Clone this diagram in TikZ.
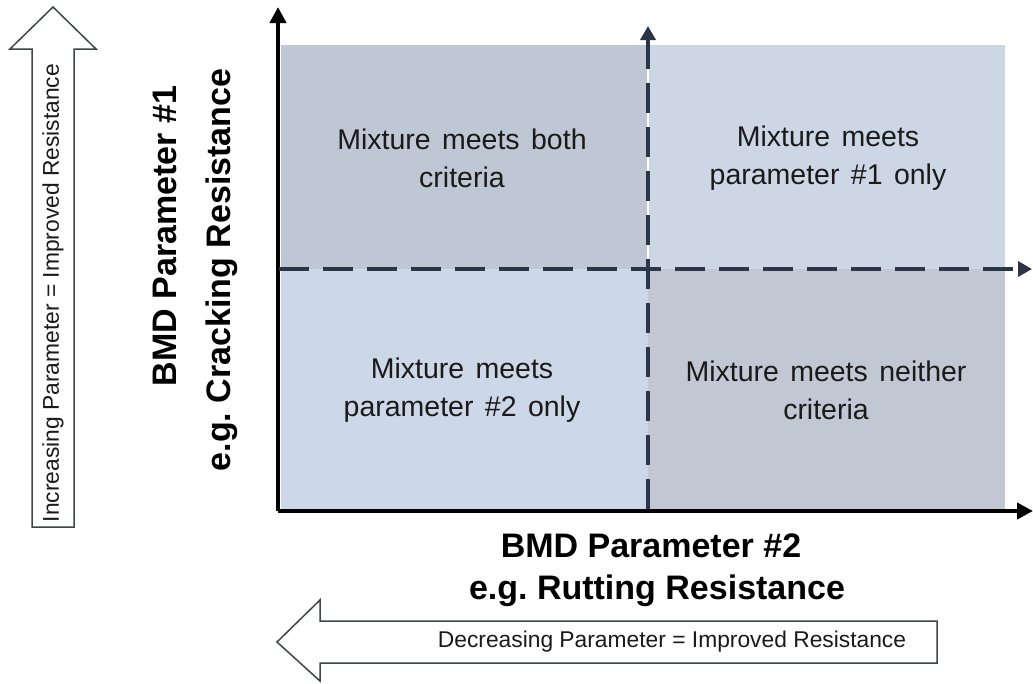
\documentclass[tikz,border=0pt]{standalone}
\usepackage{fontspec}
\setmainfont{Liberation Sans}
\usetikzlibrary{arrows.meta}
\definecolor{quadA}{HTML}{C0C7D4}
\definecolor{quadB}{HTML}{CCD6E5}
\definecolor{quadC}{HTML}{CCD7E7}
\definecolor{quadD}{HTML}{C2C8D3}
\definecolor{divider}{HTML}{2A3548}
\definecolor{outline}{HTML}{404548}
\definecolor{ink}{HTML}{1A1A1A}
\frenchspacing
\newcommand{\quadfont}{\fontsize{28.5}{38}\selectfont\spaceskip=0.4em plus 0.1em\relax}
\tikzset{
  quad/.style={rectangle, inner sep=0pt, anchor=north west, align=center, text=ink,
    font=\quadfont},
  panel/.style={rectangle, inner sep=0pt, anchor=north west},
  axis/.style={line width=4pt, -{Triangle[length=16pt,width=16pt]}},
  divline/.style={line width=3.5pt, color=divider, dash pattern=on 30pt off 14pt,
    -{Triangle[length=14pt,width=15pt]}},
  axislabel/.style={font=\fontsize{34}{38}\selectfont\bfseries},
  bigarrow/.style={draw=outline, line width=1.5pt, fill=white, line join=miter},
  arrowtext/.style={text=ink, font=\fontsize{22.8}{26}\selectfont}
}
\begin{document}
\begin{tikzpicture}[x=1pt, y=-1pt]
\useasboundingbox (0,0) rectangle (1033,683);

% quadrant panels
\node[panel, fill=quadA, minimum width=367pt, minimum height=224pt] (q1) at (281,45) {};
\node[panel, fill=quadB, minimum width=357pt, minimum height=224pt] (q2) at (648,45) {};
\node[panel, fill=quadC, minimum width=367pt, minimum height=240pt] (q3) at (281,269) {};
\node[panel, fill=quadD, minimum width=357pt, minimum height=240pt] (q4) at (648,269) {};

\node[quad, anchor=center] (t1) at (462,158) {Mixture meets both\\criteria};
\node[quad, anchor=center] (t2) at (828,158) {Mixture meets\\parameter \#1 only};
\node[quad, anchor=center] (t3) at (462,390) {Mixture meets\\parameter \#2 only};
\node[quad, anchor=center] (t4) at (826,390) {Mixture meets neither\\criteria};

% axes
\coordinate (o) at (278,511);
\coordinate (ytop) at (278,7);
\coordinate (xend) at (1033,511);
\draw[axis] (o) -- (ytop);
\draw[axis] (o) -- (xend);

% threshold lines
\coordinate (vb) at (648,509);
\coordinate (vt) at (648,26);
\coordinate (hl) at (279,269);
\coordinate (hr) at (1032,269);
\draw[white, line width=2pt] (648,45) -- (648,269);
\draw[divline] (vb) -- (vt);
\draw[divline] (hl) -- (hr);

% axis labels
\node[axislabel, rotate=90] (ylab1) at (165,236) {BMD Parameter \#1};
\node[axislabel, rotate=90] (ylab2) at (222,270) {e.g. Cracking Resistance};
\node[axislabel] (xlab1) at (651,546) {BMD Parameter \#2};
\node[axislabel] (xlab2) at (657,591) {e.g. Rutting Resistance};

% direction arrows
\draw[bigarrow] (53,7) -- (96,49) -- (74,49) -- (74,527) -- (32,527) -- (32,49) -- (10,49) -- cycle;
\node[arrowtext, rotate=90] (uptext) at (53,293) {Increasing Parameter = Improved Resistance};
\draw[bigarrow] (277,642) -- (320,600) -- (320,621) -- (937,621) -- (937,663) -- (320,663) -- (320,681) -- cycle;
\node[arrowtext] (lefttext) at (672,642) {Decreasing Parameter = Improved Resistance};
\end{tikzpicture}
\end{document}
